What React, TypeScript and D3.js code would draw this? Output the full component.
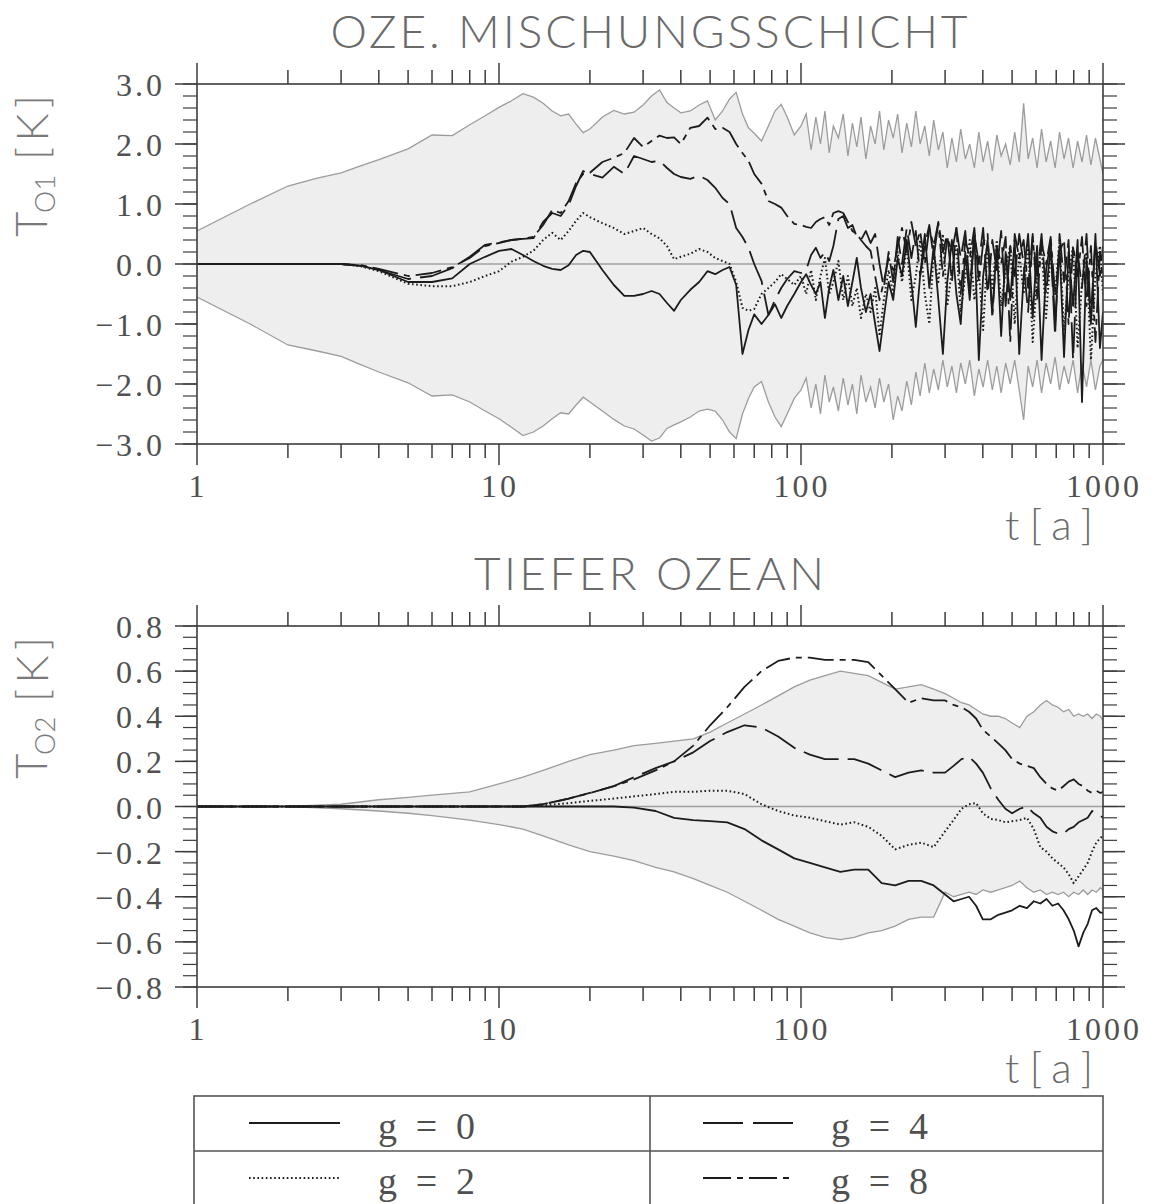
import React, { useEffect } from 'react';
import * as d3 from 'd3';

// ---------- DATA ----------
// Time axis (years) for upper panel
const topYears = [
  1, 1.5, 2, 2.5, 3, 3.5, 4,
  5, 6, 7, 8, 9, 10, 11, 12, 13, 14, 15, 16, 17, 18, 19, 20,
  22, 24, 26, 28, 30, 32, 34, 36, 38, 40,
  43, 46, 49, 52, 55, 58, 61, 64, 67, 70,
  74, 78, 82, 86, 90, 95, 100,
  104, 108, 112, 116, 120, 124, 128,
  133, 138, 143, 148, 153, 158,
  164, 170, 176, 182, 188, 195,
  202, 209, 216, 224, 232, 240, 248,
  257, 266, 275, 285, 295,
  305, 316, 327, 338, 350, 362, 375, 388,
  401, 415, 430, 445, 460, 476, 493,
  510, 528, 546, 565, 585,
  605, 626, 648, 671, 694,
  718, 743, 769, 796,
  824, 852, 882, 912, 944, 977, 1000,
];
const topUpper = [
  0.55, 1.0, 1.3, 1.43, 1.52, 1.64, 1.74,
  1.92, 2.15, 2.14, 2.32, 2.47, 2.61, 2.72, 2.84, 2.78, 2.68, 2.55, 2.47, 2.5, 2.33, 2.19, 2.25,
  2.45, 2.56, 2.5, 2.53, 2.65, 2.8, 2.9, 2.69, 2.6, 2.52,
  2.55, 2.65, 2.72, 2.4, 2.55, 2.75, 2.86, 2.5, 2.27, 2.18,
  2.05, 2.3, 2.55, 2.66, 2.45, 2.15, 2.3,
  2.5, 1.9, 2.45, 2.0, 2.55, 1.85, 2.3,
  2.1, 2.5, 1.8, 2.35, 1.95, 2.45,
  1.75, 2.3, 2.0, 2.55, 1.9, 2.4,
  2.1, 2.5, 1.85, 2.35, 1.95, 2.55, 2.0,
  2.3, 1.8, 2.4, 1.9, 2.2,
  1.6, 2.1, 1.7, 2.25, 1.75, 2.0, 1.6, 2.2,
  1.7, 2.05, 1.55, 2.15, 1.8, 2.0, 1.65,
  2.2, 1.7, 2.68, 1.75, 2.1,
  1.6, 2.25, 1.7, 2.05, 1.6,
  2.2, 1.75, 2.1, 1.6,
  2.05, 1.7, 2.15, 1.65, 2.1, 1.75, 1.5,
];
const topLower = [
  -0.55, -1.0, -1.35, -1.45, -1.54, -1.68, -1.8,
  -1.98, -2.2, -2.18, -2.3, -2.45, -2.58, -2.72, -2.86, -2.8, -2.7, -2.58, -2.48, -2.5, -2.35, -2.22, -2.3,
  -2.45, -2.59, -2.7, -2.75, -2.85, -2.95, -2.9, -2.74, -2.68, -2.63,
  -2.55, -2.45, -2.42, -2.45, -2.6, -2.8, -2.91, -2.5, -2.24, -2.05,
  -1.96, -2.3, -2.55, -2.71, -2.5, -2.24, -2.1,
  -1.9, -2.4, -2.0, -2.5, -1.85, -2.3, -2.05,
  -2.45, -1.9, -2.35, -2.0, -2.5, -1.85,
  -2.3, -2.05, -2.4, -1.9, -2.3, -2.0,
  -2.6, -2.2, -2.45, -1.95, -2.35, -1.8, -2.2,
  -1.65, -2.15, -1.75, -2.1, -1.6,
  -2.05, -1.7, -2.15, -1.65, -2.0, -1.6, -2.2, -1.75,
  -2.05, -1.6, -2.1, -1.7, -2.15, -1.65, -2.0,
  -1.6, -2.1, -2.6, -1.7, -2.05,
  -1.6, -2.15, -1.65, -2.0, -1.55,
  -2.1, -1.7, -2.0, -1.6,
  -2.15, -1.65, -2.05, -1.6, -2.1, -1.7, -1.6,
];
const topG0 = [
  0, 0, 0, 0, 0, -0.03, -0.1,
  -0.3, -0.3, -0.24, 0.0, 0.12, 0.22, 0.25, 0.15, 0.05, -0.03, -0.08, -0.1, -0.02, 0.15, 0.22, 0.2,
  -0.1, -0.35, -0.53, -0.53, -0.5, -0.45, -0.5, -0.65, -0.78, -0.6,
  -0.43, -0.3, -0.12, -0.17, -0.1, -0.05, -0.35, -1.5, -1.1, -0.84,
  -1.0, -0.85, -0.67, -0.9, -0.7, -0.5, -0.3,
  -0.17, -0.35, -0.5, -0.3, -0.9, -0.4, -0.1,
  -0.6, -0.2, -0.7, -0.3, 0.1, -0.4,
  -0.8, -0.5, -1.0, -1.45, -0.9, -0.3,
  -0.6, 0.1, -0.2, 0.4, -0.3, -1.05, -0.2,
  0.5, -0.4, 0.3, -0.6, -1.5,
  -0.3, 0.4, -0.5, -1.0, 0.2, -0.6, 0.5, -1.6,
  -0.2, 0.4, -0.8, 0.3, -1.2, 0.2, -0.6,
  0.4, -1.5, -0.2, 0.5, -0.9,
  0.3, -1.6, -0.1, 0.4, -1.0,
  0.3, -1.55, 0.2, -0.7,
  0.4, -2.3, 0.1, -1.0, 0.5, -1.4, -0.8,
];
const topG2 = [
  0, 0, 0, 0, 0, -0.04, -0.12,
  -0.33, -0.37, -0.37, -0.3, -0.2, -0.12, 0.04, 0.12, 0.22, 0.4, 0.52, 0.4, 0.55, 0.72, 0.85, 0.78,
  0.68, 0.6, 0.5, 0.55, 0.6, 0.5, 0.43, 0.3, 0.08, 0.12,
  0.17, 0.25, 0.2, 0.1, 0.05, 0.0, -0.3, -0.73, -0.78, -0.75,
  -0.5, -0.4, -0.3, -0.17, -0.25, -0.35, -0.2,
  -0.5, -0.1, -0.6, -0.2, 0.1, -0.5, -0.3,
  0.05, -0.6, -0.2, -0.7, -0.4, -0.9,
  -0.5, -0.8, -0.4, -1.2, -0.6, -0.1,
  -0.5, 0.2, -0.3, 0.3, -0.6, -0.2, 0.4,
  -0.5, -1.0, 0.2, -0.3, 0.5,
  -0.7, -0.1, 0.3, -0.8, -0.2, 0.4, -0.6, -0.1,
  -1.1, 0.3, -0.4, 0.4, -0.7, -0.1, 0.3,
  -1.0, 0.2, -0.5, 0.3, -1.3,
  -0.2, 0.3, -0.9, 0.2, -0.5,
  0.4, -1.1, -0.2, 0.3,
  -1.4, -0.3, 0.2, -1.6, -0.2, 0.3, -0.5,
];
const topG4 = [
  0, 0, 0, 0, 0, -0.03, -0.1,
  -0.25, -0.2, -0.07, 0.12, 0.32, 0.36, 0.4, 0.42, 0.43, 0.7, 0.85, 0.8, 0.98, 1.3, 1.55, 1.5,
  1.44, 1.62, 1.5, 1.8, 1.75, 1.7, 1.72, 1.6, 1.5, 1.45,
  1.42, 1.47, 1.4, 1.27, 1.1, 1.0, 0.6, 0.45, 0.27, 0.0,
  -0.28, -0.85, -0.6, -0.4, -0.25, -0.12, -0.15,
  -0.1, 0.15, 0.27, 0.1, 0.2, 0.05, 0.3,
  0.75, 0.8, 0.6, 0.65, 0.45, 0.4,
  0.55, 0.35, 0.5, 0.0, -0.4, 0.2,
  -0.3, 0.45, 0.0, 0.6, 0.1, 0.55, -0.2,
  0.3, 0.65, 0.1, 0.7, 0.2,
  0.5, -0.3, 0.6, 0.1, 0.55, -0.4, 0.5, 0.0,
  0.6, -0.5, 0.4, -0.1, 0.55, -0.7, 0.3,
  -0.2, 0.5, 0.0, -0.8, 0.45,
  -0.2, 0.5, -0.5, 0.3, -1.2,
  0.5, -0.3, 0.4, -1.6,
  0.2, -0.4, 0.5, -0.9, 0.4, -0.2, 0.3,
];
const topG8 = [
  0, 0, 0, 0, 0, -0.02, -0.08,
  -0.2, -0.15, -0.05, 0.1, 0.3, 0.35, 0.4, 0.42, 0.45, 0.65, 0.9, 0.85, 1.05, 1.35, 1.5, 1.52,
  1.7, 1.77, 1.85, 2.1, 1.95, 2.05, 2.14, 2.1, 2.11, 2.0,
  2.27, 2.3, 2.44, 2.25, 2.27, 2.2, 2.0, 1.85, 1.72, 1.5,
  1.34, 1.05, 1.0, 0.94, 0.8, 0.67, 0.65,
  0.62, 0.6, 0.7, 0.75, 0.78, 0.65, 0.85,
  0.88, 0.85, 0.7, 0.55, 0.5, 0.4,
  0.3, 0.22, -0.2, -0.6, -0.3, 0.1,
  -0.1, 0.3, 0.6, 0.2, 0.7, 0.3, 0.55,
  0.0, 0.6, 0.3, 0.7, -0.2,
  0.45, 0.2, 0.6, -0.5, 0.4, 0.1, 0.6, -0.3,
  0.35, 0.5, -0.9, 0.3, 0.0, 0.45, -1.3,
  0.5, 0.1, 0.4, -0.4, 0.5,
  -0.6, 0.35, 0.0, 0.45, -0.5,
  0.2, 0.4, -1.0, 0.3,
  -0.2, 0.45, -0.7, 0.3, -1.3, 0.2, -0.3,
];

// Time axis (years) for lower panel
const botYears = [
  1, 2, 3, 4, 5, 6, 8, 10,
  12, 14, 17, 20, 24, 28, 33, 38,
  44, 50, 57, 65, 74, 84, 95, 107,
  120, 135, 150, 167, 185, 205, 227, 250,
  275, 300, 320, 340, 360, 380, 400, 425,
  450, 475, 500, 530, 560, 590, 620, 650,
  680, 710, 740, 770, 800, 830, 860, 890,
  920, 950, 980, 1000,
];
const botUpper = [
  0, 0, 0.01, 0.03, 0.04, 0.05, 0.065, 0.1,
  0.13, 0.16, 0.2, 0.23, 0.25, 0.27, 0.28, 0.29,
  0.3, 0.33, 0.37, 0.41, 0.45, 0.49, 0.53, 0.56,
  0.58, 0.6, 0.59, 0.58, 0.55, 0.52, 0.53, 0.54,
  0.52, 0.5, 0.48, 0.46, 0.45, 0.43, 0.41, 0.4,
  0.4, 0.39, 0.37, 0.35, 0.4, 0.42, 0.45, 0.47,
  0.45, 0.44, 0.42, 0.43, 0.4, 0.41, 0.4, 0.41,
  0.39, 0.41, 0.4, 0.38,
];
const botLower = [
  0, 0, -0.01, -0.02, -0.03, -0.04, -0.06, -0.08,
  -0.1, -0.13, -0.17, -0.2, -0.22, -0.24, -0.27, -0.29,
  -0.32, -0.35, -0.38, -0.42, -0.46, -0.5, -0.53, -0.56,
  -0.58, -0.59, -0.58, -0.56, -0.55, -0.53, -0.5, -0.49,
  -0.49, -0.38, -0.4, -0.39, -0.38, -0.39, -0.37, -0.38,
  -0.37, -0.36, -0.35, -0.33, -0.36, -0.38, -0.37, -0.39,
  -0.38, -0.39, -0.38, -0.4, -0.38, -0.39, -0.37, -0.39,
  -0.37, -0.38, -0.36, -0.37,
];
const botG0 = [
  0, 0, 0, 0, 0, 0, 0, 0,
  0, 0, 0, 0, 0, -0.005, -0.02, -0.05,
  -0.06, -0.065, -0.07, -0.1, -0.15, -0.19, -0.23, -0.25,
  -0.27, -0.29, -0.28, -0.28, -0.34, -0.35, -0.33, -0.33,
  -0.35, -0.39, -0.42, -0.41, -0.4, -0.44, -0.5, -0.5,
  -0.48, -0.47, -0.46, -0.44, -0.45, -0.42, -0.43, -0.41,
  -0.44, -0.43, -0.46, -0.5, -0.55, -0.62, -0.56, -0.52,
  -0.46, -0.45, -0.47, -0.47,
];
const botG2 = [
  0, 0, 0, 0, 0, 0, 0, 0,
  0, 0.005, 0.015, 0.025, 0.035, 0.045, 0.055, 0.065,
  0.065, 0.07, 0.07, 0.055, 0.01, -0.02, -0.04, -0.05,
  -0.065, -0.08, -0.07, -0.09, -0.13, -0.19, -0.17, -0.16,
  -0.18, -0.11, -0.06, -0.01, 0.01, 0.015, -0.03, -0.055,
  -0.06, -0.07, -0.065, -0.06, -0.05, -0.1, -0.18, -0.2,
  -0.23, -0.25, -0.27, -0.3, -0.34, -0.31, -0.28, -0.25,
  -0.2, -0.16, -0.14, -0.13,
];
const botG4 = [
  0, 0, 0, 0, 0, 0, 0, 0,
  0, 0.01, 0.035, 0.06, 0.09, 0.13, 0.17, 0.2,
  0.24, 0.29, 0.33, 0.36, 0.35, 0.31, 0.26, 0.23,
  0.21, 0.21, 0.21, 0.19, 0.16, 0.13, 0.15, 0.16,
  0.15, 0.15, 0.18, 0.21, 0.22, 0.19, 0.15, 0.08,
  0.03, -0.01, -0.03, -0.01, 0.0, -0.03, -0.05, -0.09,
  -0.11, -0.12, -0.12, -0.1, -0.09, -0.07, -0.06, -0.05,
  -0.02, -0.03, -0.04, -0.05,
];
const botG8 = [
  0, 0, 0, 0, 0, 0, 0, 0,
  0, 0.01, 0.035, 0.06, 0.09, 0.12, 0.16, 0.2,
  0.27, 0.36, 0.44, 0.53, 0.6, 0.645, 0.66, 0.66,
  0.65, 0.65, 0.65, 0.64, 0.58, 0.52, 0.46, 0.48,
  0.47, 0.47, 0.45, 0.44, 0.42, 0.39, 0.34, 0.31,
  0.28, 0.25, 0.21, 0.19, 0.18, 0.17, 0.13, 0.1,
  0.08, 0.07, 0.09, 0.11, 0.12, 0.1, 0.09, 0.07,
  0.06, 0.07, 0.06, 0.065,
];

const seriesLabels = ['g = 0', 'g = 2', 'g = 4', 'g = 8'];
const xTickLabels = [1, 10, 100, 1000];
const topYTicks = [3, 2, 1, 0, -1, -2, -3];
const botYTicks = [0.8, 0.6, 0.4, 0.2, 0, -0.2, -0.4, -0.6, -0.8];

// ---------- STYLE ----------
const LIGHT = "Lato, 'DejaVu Sans', sans-serif";
const SERIF = "'Liberation Serif', 'DejaVu Serif', serif";
const AXIS = '#3c3c3c';
const TXT = '#505050';
const DASHES = ['', '1.6,2.6', '36,9', '26,6,6,6'];
const LINE_COLOR = '#1c1c1c';
const X0 = 197;
const X1 = 1103;

type PanelProps = {
  id: string;
  t: number[];
  upper: number[];
  lower: number[];
  lines: number[][];
  domain: [number, number];
  majors: number[];
  minorStep: number;
  top: number;
  bottom: number;
  title: string;
  titleLen: number;
  sub: string;
};

function Panel(p: PanelProps) {
  const x = d3.scaleLog().domain([1, 1000]).range([X0, X1]);
  const y = d3.scaleLinear().domain(p.domain).range([p.bottom, p.top]);
  const xt = x.ticks();
  const isMajor = (v: number) => Math.abs(Math.log10(v) - Math.round(Math.log10(v))) < 1e-9;
  const minorY = d3.range(p.domain[0], p.domain[1] + p.minorStep / 2, p.minorStep);
  const area = d3
    .area<number>()
    .x((_, i) => x(p.t[i]))
    .y0((_, i) => y(p.lower[i]))
    .y1((d) => y(d));
  const line = d3
    .line<number>()
    .x((_, i) => x(p.t[i]))
    .y((d) => y(d));
  const fmt = d3.format('.1f');
  const order = [0, 1, 2, 3];
  const cx = (X0 + X1) / 2;
  const lblOff = p.top - 84;
  return (
    <g>
      <defs>
        <clipPath id={p.id}>
          <rect x={X0} y={p.top} width={X1 - X0} height={p.bottom - p.top} />
        </clipPath>
      </defs>
      <text
        x={cx - 1}
        y={p.top - 36}
        textAnchor="middle"
        fontFamily={LIGHT}
        fontWeight={300}
        fontSize={46}
        fill="#6a6a6a"
        textLength={p.titleLen}
        lengthAdjust="spacing"
      >
        {p.title}
      </text>
      <g clipPath={`url(#${p.id})`}>
        <path d={area(p.upper) || ''} fill="#eeeeee" stroke="none" />
        <path d={line(p.upper) || ''} fill="none" stroke="#9c9c9c" strokeWidth={1.3} />
        <path d={line(p.lower) || ''} fill="none" stroke="#9c9c9c" strokeWidth={1.3} />
        <line x1={X0} x2={X1} y1={y(0)} y2={y(0)} stroke="#a0a0a0" strokeWidth={1.3} />
        {order.map((k) => (
          <path
            key={k}
            d={line(p.lines[k]) || ''}
            fill="none"
            stroke={LINE_COLOR}
            strokeWidth={k === 1 ? 2 : 1.8}
            strokeDasharray={DASHES[k] || undefined}
            strokeLinejoin="round"
          />
        ))}
      </g>
      {/* frame */}
      <rect x={X0} y={p.top} width={X1 - X0} height={p.bottom - p.top} fill="none" stroke={AXIS} strokeWidth={1.6} />
      {/* x ticks */}
      {xt.map((v, i) => {
        const len = isMajor(v) ? 21 : 14;
        return (
          <g key={'xt' + i}>
            <line x1={x(v)} x2={x(v)} y1={p.top} y2={p.top - len} stroke={AXIS} strokeWidth={1.5} />
            <line x1={x(v)} x2={x(v)} y1={p.bottom} y2={p.bottom + len} stroke={AXIS} strokeWidth={1.5} />
          </g>
        );
      })}
      {/* y minor ticks */}
      {minorY.map((v, i) => (
        <g key={'ym' + i}>
          <line x1={X0} x2={X0 - 14} y1={y(v)} y2={y(v)} stroke={AXIS} strokeWidth={1.2} />
          <line x1={X1} x2={X1 + 14} y1={y(v)} y2={y(v)} stroke={AXIS} strokeWidth={1.2} />
        </g>
      ))}
      {p.majors.map((v, i) => (
        <g key={'yM' + i}>
          <line x1={X0} x2={X0 - 22} y1={y(v)} y2={y(v)} stroke={AXIS} strokeWidth={1.5} />
          <line x1={X1} x2={X1 + 22} y1={y(v)} y2={y(v)} stroke={AXIS} strokeWidth={1.5} />
          <text
            x={165}
            y={y(v) + 12}
            textAnchor="end"
            fontFamily={SERIF}
            fontSize={32}
            letterSpacing={3}
            fill={TXT}
          >
            {fmt(v)}
          </text>
        </g>
      ))}
      {xTickLabels.map((v, i) => (
        <text
          key={'xl' + i}
          x={x(v) + 1}
          y={p.bottom + 53}
          textAnchor="middle"
          fontFamily={SERIF}
          fontSize={32}
          letterSpacing={3}
          fill={TXT}
        >
          {String(v)}
        </text>
      ))}
      <text
        x={1005}
        y={p.bottom + 96}
        fontFamily={LIGHT}
        fontWeight={300}
        fontSize={42}
        fill="#6a6a6a"
        textLength={88}
        lengthAdjust="spacing"
      >
        t[a]
      </text>
      {/* y label */}
      <g fill="#7a7a7a" fontFamily={LIGHT} fontWeight={300}>
        <text transform={`translate(47,${237 + lblOff}) rotate(-90)`} fontSize={44}>
          T
        </text>
        <text transform={`translate(55,${213 + lblOff}) rotate(-90)`} fontSize={28}>
          {p.sub}
        </text>
        <text
          transform={`translate(48,${160 + lblOff}) rotate(-90)`}
          fontSize={44}
          textLength={65}
          lengthAdjust="spacing"
        >
          [K]
        </text>
      </g>
    </g>
  );
}

function Legend() {
  const left = 194;
  const right = 1103;
  const mid = 650;
  const topY = 1096;
  const rowH = 55;
  const cells = [
    { k: 0, col: 0, row: 0 },
    { k: 2, col: 1, row: 0 },
    { k: 1, col: 0, row: 1 },
    { k: 3, col: 1, row: 1 },
  ];
  return (
    <g>
      <rect x={left} y={topY} width={right - left} height={rowH * 2} fill="none" stroke="#555" strokeWidth={1.6} />
      <line x1={left} x2={right} y1={topY + rowH} y2={topY + rowH} stroke="#555" strokeWidth={1.6} />
      <line x1={mid} x2={mid} y1={topY} y2={topY + rowH * 2} stroke="#555" strokeWidth={1.6} />
      {cells.map((c) => {
        const lx = c.col === 0 ? 249 : 703;
        const tx = c.col === 0 ? 378 : 831;
        const ly = topY + 27 + c.row * rowH;
        return (
          <g key={c.k}>
            <line
              x1={lx}
              x2={lx + 91}
              y1={ly}
              y2={ly}
              stroke={LINE_COLOR}
              strokeWidth={c.k === 1 ? 2 : 1.8}
              strokeDasharray={c.k === 2 ? '40,10' : c.k === 3 ? '28,6,6,6' : DASHES[c.k] || undefined}
            />
            <text
              x={tx}
              y={ly + 16}
              fontFamily={SERIF}
              fontSize={38}
              fill={TXT}
              textLength={97}
              lengthAdjust="spacing"
            >
              {seriesLabels[c.k]}
            </text>
          </g>
        );
      })}
    </g>
  );
}

export default function App() {
  useEffect(() => {
    document.body.style.margin = '0';
    document.body.style.overflow = 'hidden';
  }, []);
  return (
    <svg
      width={1156}
      height={1204}
      viewBox="0 0 1156 1204"
      style={{ position: 'absolute', left: 0, top: 0, display: 'block', background: '#fff' }}
    >
      <rect x={0} y={0} width={1156} height={1204} fill="#fff" />
      <Panel
        id="clipTop"
        t={topYears}
        upper={topUpper}
        lower={topLower}
        lines={[topG0, topG2, topG4, topG8]}
        domain={[-3, 3]}
        majors={topYTicks}
        minorStep={0.2}
        top={84}
        bottom={444}
        title="OZE. MISCHUNGSSCHICHT"
        titleLen={637}
        sub="O1"
      />
      <Panel
        id="clipBot"
        t={botYears}
        upper={botUpper}
        lower={botLower}
        lines={[botG0, botG2, botG4, botG8]}
        domain={[-0.8, 0.8]}
        majors={botYTicks}
        minorStep={0.05}
        top={626}
        bottom={987}
        title="TIEFER OZEAN"
        titleLen={350}
        sub="O2"
      />
      <Legend />
    </svg>
  );
}
